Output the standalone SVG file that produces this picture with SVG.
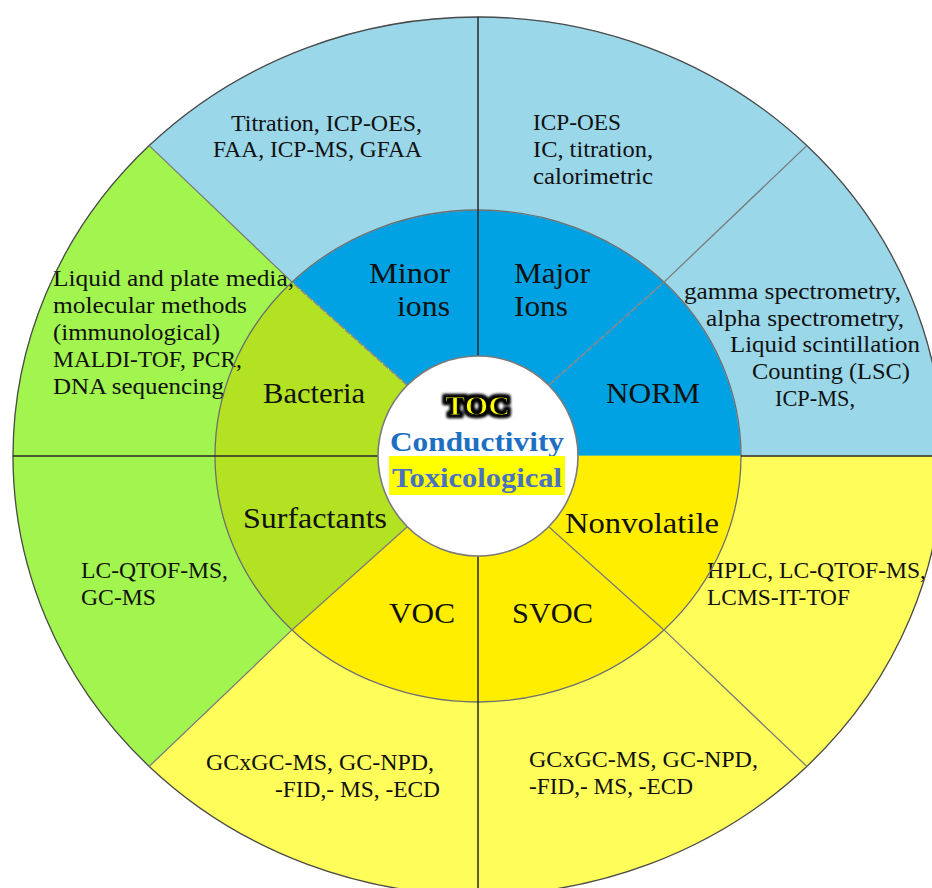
<svg xmlns="http://www.w3.org/2000/svg" width="932" height="888" viewBox="0 0 932 888">
<defs>
<style>
.lb{fill:#9ad7e9;stroke:#9ad7e9;stroke-width:0.8}
.db{fill:#00a2e3;stroke:#00a2e3;stroke-width:0.8}
.lg{fill:#a2f44f;stroke:#a2f44f;stroke-width:0.8}
.dg{fill:#b3e223;stroke:#b3e223;stroke-width:0.8}
.ly{fill:#fffd5a;stroke:#fffd5a;stroke-width:0.8}
.dy{fill:#ffee00;stroke:#ffee00;stroke-width:0.8}
.t{font-family:"Liberation Serif","Times New Roman",serif;font-size:23px;fill:#111}
.L{font-family:"Liberation Serif","Times New Roman",serif;font-size:29px;fill:#111}
.c{font-family:"Liberation Serif","Times New Roman",serif;font-size:28px;font-weight:bold}
.dark{stroke:#2a2a2a;stroke-width:1.5;fill:none}
.gray{stroke:#7a7a7a;stroke-width:1.3;fill:none}
.dash{stroke:#8a8a8a;stroke-width:1.6;fill:none;stroke-dasharray:7 1.5}
</style>
<filter id="glow" x="-30%" y="-40%" width="160%" height="180%">
<feMorphology in="SourceAlpha" operator="dilate" radius="2" result="d"/>
<feGaussianBlur in="d" stdDeviation="1.6" result="b"/>
<feMerge><feMergeNode in="b"/><feMergeNode in="b"/><feMergeNode in="SourceGraphic"/></feMerge>
</filter>
</defs>
<rect width="932" height="888" fill="#fff"/>

<!-- middle ring -->
<g id="minor-ions">
<path class="db" d="M478,210 A263,246 0 0 0 292,282.1 L407.3,385.3 A100,100 0 0 1 478,356 Z"/>
<text class="L" x="369" y="283" textLength="81" lengthAdjust="spacingAndGlyphs">Minor</text>
<text class="L" x="397" y="316" textLength="53" lengthAdjust="spacingAndGlyphs">ions</text>
</g>
<g id="major-ions">
<path class="db" d="M664,282.1 A263,246 0 0 0 478,210 L478,356 A100,100 0 0 1 548.7,385.3 Z"/>
<text class="L" x="514" y="283" textLength="76" lengthAdjust="spacingAndGlyphs">Major</text>
<text class="L" x="514" y="316" textLength="54" lengthAdjust="spacingAndGlyphs">Ions</text>
</g>
<g id="norm">
<path class="db" d="M741,456 A263,246 0 0 0 664,282.1 L548.7,385.3 A100,100 0 0 1 578,456 Z"/>
<text class="L" x="606" y="403" textLength="94" lengthAdjust="spacingAndGlyphs">NORM</text>
</g>
<g id="bacteria">
<path class="dg" d="M292,282.1 A263,246 0 0 0 215,456 L378,456 A100,100 0 0 1 407.3,385.3 Z"/>
<text class="L" x="263" y="403" textLength="102" lengthAdjust="spacingAndGlyphs">Bacteria</text>
</g>
<g id="surfactants">
<path class="dg" d="M215,456 A263,246 0 0 0 292,629.9 L407.3,526.7 A100,100 0 0 1 378,456 Z"/>
<text class="L" x="243" y="528" textLength="144" lengthAdjust="spacingAndGlyphs">Surfactants</text>
</g>
<g id="voc">
<path class="dy" d="M292,629.9 A263,246 0 0 0 478,702 L478,556 A100,100 0 0 1 407.3,526.7 Z"/>
<text class="L" x="389" y="623" textLength="66" lengthAdjust="spacingAndGlyphs">VOC</text>
</g>
<g id="svoc">
<path class="dy" d="M478,702 A263,246 0 0 0 664,629.9 L548.7,526.7 A100,100 0 0 1 478,556 Z"/>
<text class="L" x="512" y="623" textLength="81" lengthAdjust="spacingAndGlyphs">SVOC</text>
</g>
<g id="nonvolatile">
<path class="dy" d="M664,629.9 A263,246 0 0 0 741,456 L578,456 A100,100 0 0 1 548.7,526.7 Z"/>
<text class="L" x="565" y="533" textLength="154" lengthAdjust="spacingAndGlyphs">Nonvolatile</text>
</g>

<!-- outer ring -->
<g id="minor-ions-methods">
<path class="lb" d="M478,17 A465,439 0 0 0 149.2,145.6 L292,282.1 A263,246 0 0 1 478,210 Z"/>
<text class="t" x="231" y="131" textLength="191" lengthAdjust="spacingAndGlyphs">Titration, ICP-OES,</text>
<text class="t" x="213" y="157" textLength="209" lengthAdjust="spacingAndGlyphs">FAA, ICP-MS, GFAA</text>
</g>
<g id="major-ions-methods">
<path class="lb" d="M806.8,145.6 A465,439 0 0 0 478,17 L478,210 A263,246 0 0 1 664,282.1 Z"/>
<text class="t" x="533" y="130" textLength="88" lengthAdjust="spacingAndGlyphs">ICP-OES</text>
<text class="t" x="533" y="157" textLength="120" lengthAdjust="spacingAndGlyphs">IC, titration,</text>
<text class="t" x="533" y="184" textLength="120" lengthAdjust="spacingAndGlyphs">calorimetric</text>
</g>
<g id="norm-methods">
<path class="lb" d="M943,456 A465,439 0 0 0 806.8,145.6 L664,282.1 A263,246 0 0 1 741,456 Z"/>
<text class="t" x="684" y="299" textLength="217" lengthAdjust="spacingAndGlyphs">gamma spectrometry,</text>
<text class="t" x="706" y="326" textLength="198" lengthAdjust="spacingAndGlyphs">alpha spectrometry,</text>
<text class="t" x="730" y="352" textLength="190" lengthAdjust="spacingAndGlyphs">Liquid scintillation</text>
<text class="t" x="752" y="379" textLength="158" lengthAdjust="spacingAndGlyphs">Counting (LSC)</text>
<text class="t" x="775" y="406" textLength="80" lengthAdjust="spacingAndGlyphs">ICP-MS,</text>
</g>
<g id="bacteria-methods">
<path class="lg" d="M149.2,145.6 A465,439 0 0 0 13,456 L215,456 A263,246 0 0 1 292,282.1 Z"/>
<text class="t" x="53" y="286" textLength="241" lengthAdjust="spacingAndGlyphs">Liquid and plate media,</text>
<text class="t" x="53" y="313" textLength="194" lengthAdjust="spacingAndGlyphs">molecular methods</text>
<text class="t" x="53" y="340" textLength="167" lengthAdjust="spacingAndGlyphs">(immunological)</text>
<text class="t" x="53" y="367" textLength="189" lengthAdjust="spacingAndGlyphs">MALDI-TOF, PCR,</text>
<text class="t" x="53" y="394" textLength="171" lengthAdjust="spacingAndGlyphs">DNA sequencing</text>
</g>
<g id="surfactants-methods">
<path class="lg" d="M13,456 A465,439 0 0 0 149.2,766.4 L292,629.9 A263,246 0 0 1 215,456 Z"/>
<text class="t" x="81" y="578" textLength="147" lengthAdjust="spacingAndGlyphs">LC-QTOF-MS,</text>
<text class="t" x="81" y="605" textLength="75" lengthAdjust="spacingAndGlyphs">GC-MS</text>
</g>
<g id="voc-methods">
<path class="ly" d="M149.2,766.4 A465,439 0 0 0 478,895 L478,702 A263,246 0 0 1 292,629.9 Z"/>
<text class="t" x="206" y="770" textLength="228" lengthAdjust="spacingAndGlyphs">GCxGC-MS, GC-NPD,</text>
<text class="t" x="275" y="797" textLength="165" lengthAdjust="spacingAndGlyphs">-FID,- MS, -ECD</text>
</g>
<g id="svoc-methods">
<path class="ly" d="M478,895 A465,439 0 0 0 806.8,766.4 L664,629.9 A263,246 0 0 1 478,702 Z"/>
<text class="t" x="529" y="767" textLength="229" lengthAdjust="spacingAndGlyphs">GCxGC-MS, GC-NPD,</text>
<text class="t" x="529" y="794" textLength="164" lengthAdjust="spacingAndGlyphs">-FID,- MS, -ECD</text>
</g>
<g id="nonvolatile-methods">
<path class="ly" d="M806.8,766.4 A465,439 0 0 0 943,456 L741,456 A263,246 0 0 1 664,629.9 Z"/>
<text class="t" x="707" y="578" textLength="219" lengthAdjust="spacingAndGlyphs">HPLC, LC-QTOF-MS,</text>
<text class="t" x="707" y="605" textLength="143" lengthAdjust="spacingAndGlyphs">LCMS-IT-TOF</text>
</g>

<!-- connectors / dividers -->
<g id="connectors">
<ellipse cx="478" cy="456" rx="465" ry="439" fill="none" stroke="#4a4a4a" stroke-width="1.3"/>
<ellipse cx="478" cy="456" rx="263" ry="246" fill="none" stroke="#6e6e6e" stroke-width="1.3"/>
<path class="dark" d="M478,17 V356 M478,556 V895 M13,456 H378 M741,456 H943"/>
<path class="gray" d="M292,282.1 L149.2,145.6 M664,282.1 L806.8,145.6 M292,629.9 L149.2,766.4 M664,629.9 L806.8,766.4 M407.3,526.7 L292,629.9 M548.7,526.7 L664,629.9"/>
<path class="dash" d="M407.3,385.3 L292,282.1 M548.7,385.3 L664,282.1"/>
</g>

<!-- center -->
<g id="center">
<circle cx="478" cy="456" r="100" fill="#fff" stroke="#7a7a7a" stroke-width="1.6"/>
<text class="c" x="445" y="415" textLength="65" lengthAdjust="spacingAndGlyphs" fill="#ffff00" stroke="#000" stroke-width="1" filter="url(#glow)">TOC</text>
<text class="c" x="390" y="451" textLength="174" lengthAdjust="spacingAndGlyphs" fill="#1d6fc2">Conductivity</text>
<rect x="389" y="456" width="176" height="39" fill="#ffff00"/>
<text class="c" x="392" y="487" textLength="170" lengthAdjust="spacingAndGlyphs" fill="#4a72c0">Toxicological</text>
</g>
</svg>
